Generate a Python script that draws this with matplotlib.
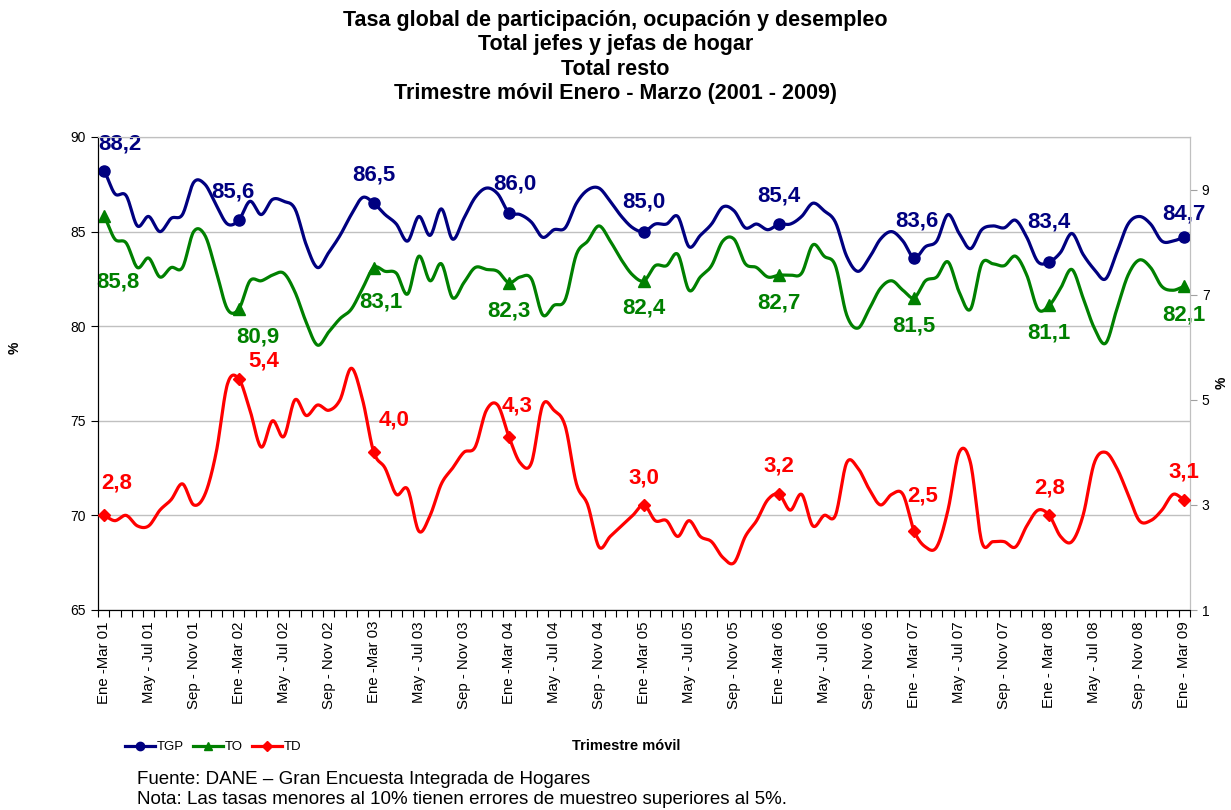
import matplotlib

matplotlib.use("Agg")

import matplotlib.pyplot as plt
import numpy as np
from matplotlib.lines import Line2D

plt.rcParams["font.family"] = ["Liberation Sans", "DejaVu Sans"]

# Trimestre móvil, Ene-Mar 01 ... Ene-Mar 09 (97 trimestres)
tgp = [88.2, 87.0, 86.9, 85.3, 85.8, 85.0, 85.7, 85.9, 87.6, 87.5, 86.4, 85.4,
       85.6, 86.6, 85.9, 86.7, 86.6, 86.2, 84.3, 83.1, 83.9, 84.8, 85.9, 86.8,
       86.5, 85.9, 85.4, 84.5, 85.8, 84.8, 86.2, 84.6, 85.7, 86.8, 87.3, 87.0,
       86.0, 85.9, 85.5, 84.7, 85.1, 85.2, 86.5, 87.2, 87.3, 86.6, 85.8, 85.2,
       85.0, 85.4, 85.4, 85.8, 84.2, 84.8, 85.4, 86.3, 86.1, 85.2, 85.4, 85.1,
       85.4, 85.4, 85.8, 86.5, 86.1, 85.5, 83.7, 82.9, 83.6, 84.6, 85.0, 84.5,
       83.6, 84.2, 84.5, 85.9, 84.9, 84.1, 85.1, 85.3, 85.2, 85.6, 84.7, 83.4,
       83.4, 83.9, 84.9, 83.8, 83.0, 82.5, 83.9, 85.4, 85.8, 85.4, 84.5, 84.5,
       84.7]
to = [85.8, 84.6, 84.4, 83.1, 83.6, 82.6, 83.1, 83.1, 85.0, 84.8, 82.9, 80.9,
      80.9, 82.4, 82.4, 82.7, 82.8, 81.8, 80.2, 79.0, 79.7, 80.4, 80.9, 82.0,
      83.1, 82.9, 82.8, 81.7, 83.7, 82.4, 83.3, 81.5, 82.3, 83.1, 83.0, 82.9,
      82.3, 82.6, 82.5, 80.6, 81.1, 81.4, 83.8, 84.5, 85.3, 84.5, 83.5, 82.7,
      82.4, 83.2, 83.2, 83.8, 81.9, 82.6, 83.2, 84.5, 84.6, 83.3, 83.1, 82.6,
      82.7, 82.7, 82.8, 84.3, 83.7, 83.2, 80.6, 79.9, 80.9, 82.0, 82.4, 81.9,
      81.5, 82.4, 82.6, 83.4, 81.8, 80.9, 83.3, 83.3, 83.2, 83.7, 82.7, 80.9,
      81.1, 82.0, 83.0, 81.5, 79.9, 79.1, 80.9, 82.7, 83.5, 83.1, 82.1, 81.9,
      82.1]
td = [2.8, 2.7, 2.8, 2.6, 2.6, 2.9, 3.1, 3.4, 3.0, 3.2, 4.0, 5.3,
      5.4, 4.8, 4.1, 4.6, 4.3, 5.0, 4.7, 4.9, 4.8, 5.0, 5.6, 5.0,
      4.0, 3.7, 3.2, 3.3, 2.5, 2.8, 3.4, 3.7, 4.0, 4.1, 4.8, 4.9,
      4.3, 3.8, 3.8, 4.9, 4.8, 4.5, 3.4, 3.0, 2.2, 2.4, 2.6, 2.8,
      3.0, 2.7, 2.7, 2.4, 2.7, 2.4, 2.3, 2.0, 1.9, 2.4, 2.7, 3.1,
      3.2, 2.9, 3.2, 2.6, 2.8, 2.8, 3.8, 3.7, 3.3, 3.0, 3.2, 3.2,
      2.5, 2.2, 2.2, 2.9, 4.0, 3.8, 2.3, 2.3, 2.3, 2.2, 2.6, 2.9,
      2.8, 2.4, 2.3, 2.8, 3.8, 4.0, 3.7, 3.2, 2.7, 2.7, 2.9, 3.2,
      3.1]
tick_labels = ["Ene -Mar 01", "May - Jul 01", "Sep - Nov 01",
               "Ene -Mar 02", "May - Jul 02", "Sep - Nov 02",
               "Ene -Mar 03", "May - Jul 03", "Sep - Nov 03",
               "Ene -Mar 04", "May - Jul 04", "Sep - Nov 04",
               "Ene -Mar 05", "May - Jul 05", "Sep - Nov 05",
               "Ene -Mar 06", "May - Jul 06", "Sep - Nov 06",
               "Ene - Mar 07", "May - Jul 07", "Sep - Nov 07",
               "Ene - Mar 08", "May - Jul 08", "Sep - Nov 08",
               "Ene - Mar 09"]

NAVY = "#000080"
GREEN = "#008000"
RED = "#FF0000"
GRID = "#C0C0C0"

# label offsets in pixels (dx, dy) for the Ene-Mar points
tgp_off = [(16, 27), (-6, 28), (0, 28), (6, 29), (0, 30), (0, 28), (3, 37), (0, 40), (0, 23)]
to_off = [(14, -66), (19, -28), (7, -34), (0, -28), (0, -27), (0, -28), (0, -28), (0, -28), (0, -29)]
td_off = [(13, 32), (25, 18), (20, 32), (8, 31), (0, 27), (0, 28), (9, 35), (0, 27), (0, 28)]


def smooth(y, n=16):
    # Catmull-Rom, like Excel's smoothed lines
    y = np.asarray(y, dtype=float)
    p = np.concatenate([[y[0]], y, [y[-1]]])
    t = np.linspace(0, 1, n, endpoint=False)
    xs, ys = [], []
    for i in range(len(y) - 1):
        p0, p1, p2, p3 = p[i], p[i + 1], p[i + 2], p[i + 3]
        seg = 0.5 * (2 * p1 + (-p0 + p2) * t + (2 * p0 - 5 * p1 + 4 * p2 - p3) * t ** 2
                     + (-p0 + 3 * p1 - 3 * p2 + p3) * t ** 3)
        xs.append(i + t)
        ys.append(seg)
    xs.append([len(y) - 1])
    ys.append([y[-1]])
    return np.concatenate(xs), np.concatenate(ys)


def fmt(v):
    return f"{v:.1f}".replace(".", ",")


def draw_series(ax, values, color, marker, ms, offsets):
    sx, sy = smooth(values)
    ax.plot(sx, sy, color=color, lw=2.3, solid_capstyle="round", zorder=3)
    idx = list(range(0, len(values), 12))
    ax.plot(idx, [values[i] for i in idx], ls="none", marker=marker, ms=ms,
            color=color, zorder=4)
    for k, i in enumerate(idx):
        dx, dy = offsets[k]
        ax.annotate(fmt(values[i]), (i, values[i]), xytext=(dx, dy),
                    textcoords="offset pixels", ha="center", va="center",
                    fontsize=16, fontweight="bold", color=color, zorder=5)


fig = plt.figure(figsize=(12.31, 8.10), dpi=100)
ax = fig.add_axes([98 / 1231, 1 - 610 / 810, (1190 - 98) / 1231, (610 - 137) / 810])
ax2 = ax.twinx()

n = len(tgp)
ax.set_xlim(-0.5, n - 0.5)
ax.set_ylim(65, 90)
ax.set_yticks([65, 70, 75, 80, 85, 90])
ax.grid(axis="y", color=GRID, lw=1)
ax.set_axisbelow(True)
ax.set_xticks(range(0, n, 4))
ax.set_xticklabels(tick_labels, rotation=90, fontsize=10.8)
ax.set_xticks(np.arange(-0.5, n, 1), minor=True)
ax.tick_params(axis="x", which="major", length=0, pad=8)
ax.tick_params(axis="x", which="minor", length=5, width=0.8, direction="out")
ax.tick_params(axis="y", length=5, width=0.8, direction="out", labelsize=10)

ax2.set_ylim(1, 10)
ax2.set_yticks([1, 3, 5, 7, 9])
ax2.tick_params(axis="y", length=5, width=0.8, direction="out", color="#A0A0A0",
                labelsize=10)

for a in (ax, ax2):
    a.spines["top"].set_color(GRID)
    a.spines["right"].set_color(GRID)
    a.spines["left"].set_color("black")
    a.spines["bottom"].set_color("black")

draw_series(ax, tgp, NAVY, "o", 8, tgp_off)
draw_series(ax, to, GREEN, "^", 8, to_off)
draw_series(ax2, td, RED, "D", 6, td_off)

fig.text(0.5, 1 - 57 / 810,
         "Tasa global de participación, ocupación y desempleo\n"
         "Total jefes y jefas de hogar\nTotal resto\n"
         "Trimestre móvil Enero - Marzo (2001 - 2009)",
         ha="center", va="center", fontsize=15.5, fontweight="bold", linespacing=1.22)

fig.text(15 / 1231, 1 - 348 / 810, "%", rotation=90, ha="center", va="center",
         fontsize=10, fontweight="bold")
fig.text(1222 / 1231, 1 - 383 / 810, "%", rotation=90, ha="center", va="center",
         fontsize=10, fontweight="bold")

handles = [
    Line2D([], [], color=NAVY, lw=2.3, marker="o", ms=6),
    Line2D([], [], color=GREEN, lw=2.3, marker="^", ms=6),
    Line2D([], [], color=RED, lw=2.3, marker="D", ms=5),
]
fig.legend(handles, ["TGP", "TO", "TD"], loc="center left",
           bbox_to_anchor=(113 / 1231, 1 - 747 / 810), ncol=3, frameon=False,
           fontsize=9.5, handlelength=2.3, handletextpad=0.1, columnspacing=0.7)

fig.text(626 / 1231, 1 - 746 / 810, "Trimestre móvil", ha="center", va="center",
         fontsize=10.5, fontweight="bold")

fig.text(137 / 1231, 1 - 779 / 810, "Fuente: DANE – Gran Encuesta Integrada de Hogares",
         ha="left", va="center", fontsize=13.5)
fig.text(137 / 1231, 1 - 799 / 810,
         "Nota: Las tasas menores al 10% tienen errores de muestreo superiores al 5%.",
         ha="left", va="center", fontsize=13.5)

fig.savefig("out.png", dpi=100)
